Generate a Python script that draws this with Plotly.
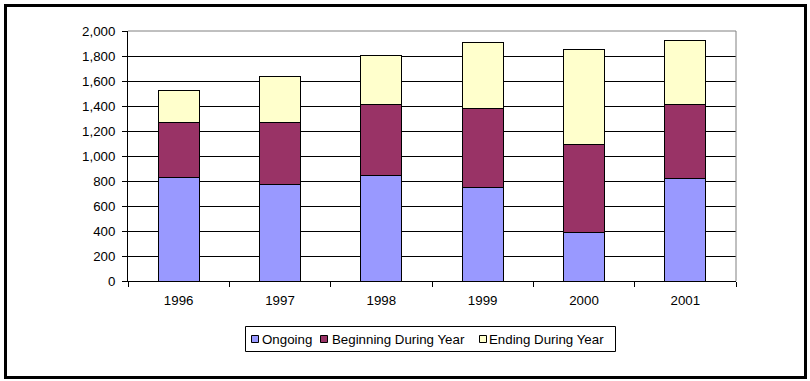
import plotly.graph_objects as go

years = ["1996", "1997", "1998", "1999", "2000", "2001"]
ongoing = [830, 773, 845, 749, 389, 821]
beginning = [439, 496, 568, 632, 704, 592]
ending = [256, 368, 395, 528, 760, 512]
y_ticks = [0, 200, 400, 600, 800, 1000, 1200, 1400, 1600, 1800, 2000]

series_names = ["Ongoing", "Beginning During Year", "Ending During Year"]
series_colors = ["#9999FF", "#993366", "#FFFFCC"]

W, H = 810, 381
L, R, T, B = 128, 74, 31, 100
pw, ph = W - L - R, H - T - B
FONT = "Liberation Sans, Arial, sans-serif"


def px_x(p):
    return (p - L) / pw


def px_y(p):
    return (H - B - p) / ph


fig = go.Figure()
for name, vals, color in zip(series_names, [ongoing, beginning, ending], series_colors):
    fig.add_trace(go.Bar(x=years, y=vals, name=name, showlegend=False,
                         marker=dict(color=color, line=dict(color="black", width=1))))

fig.update_layout(
    width=W, height=H,
    barmode="stack", bargap=0.595,
    plot_bgcolor="white", paper_bgcolor="white",
    margin=dict(l=L, r=R, t=T, b=B),
    font=dict(family=FONT, size=13.3, color="black"),
)
fig.update_xaxes(type="category", showline=True, linecolor="black", linewidth=1,
                 ticks="outside", tickson="boundaries", ticklen=5, tickcolor="black",
                 ticklabelstandoff=7, showgrid=False)
fig.update_yaxes(range=[0, 2000], tickvals=y_ticks, tickformat=",d",
                 showline=True, linecolor="black", linewidth=1,
                 ticks="outside", ticklen=5, tickcolor="black", ticklabelstandoff=4,
                 showgrid=True, gridcolor="black", gridwidth=1, zeroline=False)

# grey plot-area border on top and right
fig.add_shape(type="line", xref="paper", yref="paper", x0=0, x1=1, y0=1, y1=1,
              line=dict(color="#808080", width=1), layer="above")
fig.add_shape(type="line", xref="paper", yref="paper", x0=1, x1=1, y0=0, y1=1,
              line=dict(color="#808080", width=1), layer="above")
# outer chart frame
fig.add_shape(type="rect", xref="paper", yref="paper",
              x0=px_x(5.5), x1=px_x(805.5), y0=px_y(377.5), y1=px_y(5.5),
              line=dict(color="black", width=3), layer="above")

# legend box, Excel style
fig.add_shape(type="rect", xref="paper", yref="paper",
              x0=px_x(245.5), x1=px_x(615.5), y0=px_y(351.5), y1=px_y(326.5),
              line=dict(color="black", width=1), fillcolor="white", layer="above")
legend_sq = [251, 320, 479]
legend_tx = [260, 330, 487]
for name, color, sx, tx in zip(series_names, series_colors, legend_sq, legend_tx):
    fig.add_shape(type="rect", xref="paper", yref="paper",
                  x0=px_x(sx + 0.5), x1=px_x(sx + 7.5), y0=px_y(342.5), y1=px_y(335.5),
                  line=dict(color="black", width=1), fillcolor=color, layer="above")
    fig.add_annotation(x=px_x(tx), y=px_y(339), xref="paper", yref="paper",
                       text=name, showarrow=False, xanchor="left", yanchor="middle",
                       font=dict(family=FONT, size=13.3, color="black"))

fig.write_html("out.html", config={"displayModeBar": False},
               post_script="document.body.style.margin='0';")
